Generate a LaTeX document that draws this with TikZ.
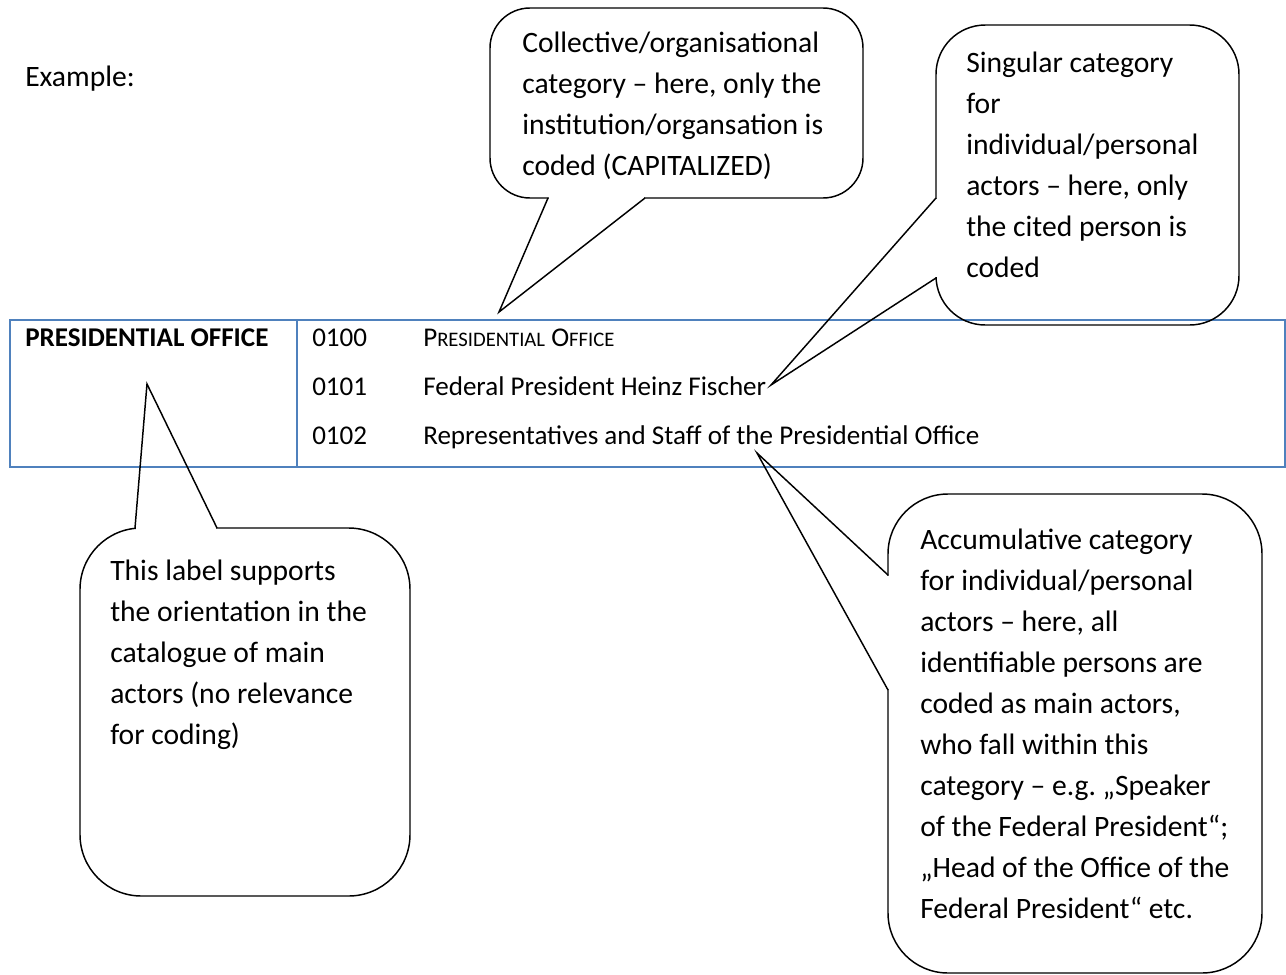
\documentclass[tikz,border=0pt]{standalone}
\usepackage{fontspec}
\setmainfont{Carlito}
\frenchspacing
\definecolor{tabblue}{RGB}{79,129,189}

\begin{document}
\begin{tikzpicture}[x=0.75pt,y=-0.75pt,
  txt/.style={anchor=base west, inner sep=0pt, align=left, font=\fontsize{22.2}{30.75}\selectfont},
  cell/.style={anchor=base west, inner sep=0pt, font=\fontsize{20.3}{24}\selectfont},
  bubble/.style={draw=black, line width=1.1pt, line join=miter},
  gap/.style={fill=white, draw=none},
  tab/.style={draw=tabblue, line width=2.2pt}]
\useasboundingbox (0,0) rectangle (1286,975);

    % heading
    \node[txt] (ex) at (25,86) {Example:};

    % table
    \draw[tab] (10,320) rectangle (1285,467);
    \draw[tab] (297,320) -- (297,467);
    \node[cell, font=\fontsize{20.3}{24}\selectfont\bfseries] (head) at (25,346) {PRESIDENTIAL OFFICE};
    \node[cell] (n0) at (312,346) {0100};
    \node[cell] (n1) at (312,395) {0101};
    \node[cell] (n2) at (312,444) {0102};
    \node[cell] (l0) at (423,346) {P{\fontsize{15.5}{15.5}\selectfont RESIDENTIAL} O{\fontsize{15.5}{15.5}\selectfont FFICE}};
    \node[cell] (l1) at (423,395) {Federal President Heinz Fischer};
    \node[cell] (l2) at (423,444) {Representatives and Staff of the Presidential Office};

    % callout 1 (top middle), base = last line
    \draw[bubble, rounded corners=30pt] (490,8) rectangle (863,198);
    \coordinate (c1a) at (548,198);
    \coordinate (c1t) at (499,312);
    \coordinate (c1b) at (645,198);
    \fill[gap] (549,195.5) rectangle (644,200.5);
    \draw[bubble] (c1a) -- (c1t) -- (c1b);
    \node[txt] (t1) at (522,175) {Collective/organisational\\category -- here, only the\\institution/organsation is\\coded (CAPITALIZED)};

    % callout 2 (top right)
    \draw[bubble, rounded corners=37pt] (936,25) rectangle (1239,325);
    \coordinate (c2a) at (936,198);
    \coordinate (c2t) at (771,385);
    \coordinate (c2b) at (936,278);
    \fill[gap] (933.5,199) rectangle (938.5,277);
    \draw[bubble] (c2a) -- (c2t) -- (c2b);
    \node[txt] (t2) at (966,277) {Singular category\\for\\individual/personal\\actors -- here, only\\the cited person is\\coded};

    % callout 3 (bottom left)
    \draw[bubble, rounded corners=46pt] (80,528) rectangle (410,896);
    \coordinate (c3a) at (135,528);
    \coordinate (c3t) at (147,384);
    \coordinate (c3b) at (217,528);
    \fill[gap] (136,525.5) rectangle (216,530.5);
    \draw[bubble] (c3a) -- (c3t) -- (c3b);
    \node[txt] (t3) at (110,744) {This label supports\\the orientation in the\\catalogue of main\\actors (no relevance\\for coding)};

    % callout 4 (bottom right)
    \draw[bubble, rounded corners=45pt] (888,494) rectangle (1262,973);
    \coordinate (c4a) at (888,575);
    \coordinate (c4t) at (757,453);
    \coordinate (c4b) at (888,690);
    \fill[gap] (885.5,576) rectangle (890.5,689);
    \draw[bubble] (c4a) -- (c4t) -- (c4b);
    \node[txt] (t4) at (920,918) {Accumulative category\\for individual/personal\\actors -- here, all\\identifiable persons are\\coded as main actors,\\who fall within this\\category -- e.g. „Speaker\\of the Federal President“;\\„Head of the Office of the\\Federal President“ etc.};
\end{tikzpicture}
\end{document}
